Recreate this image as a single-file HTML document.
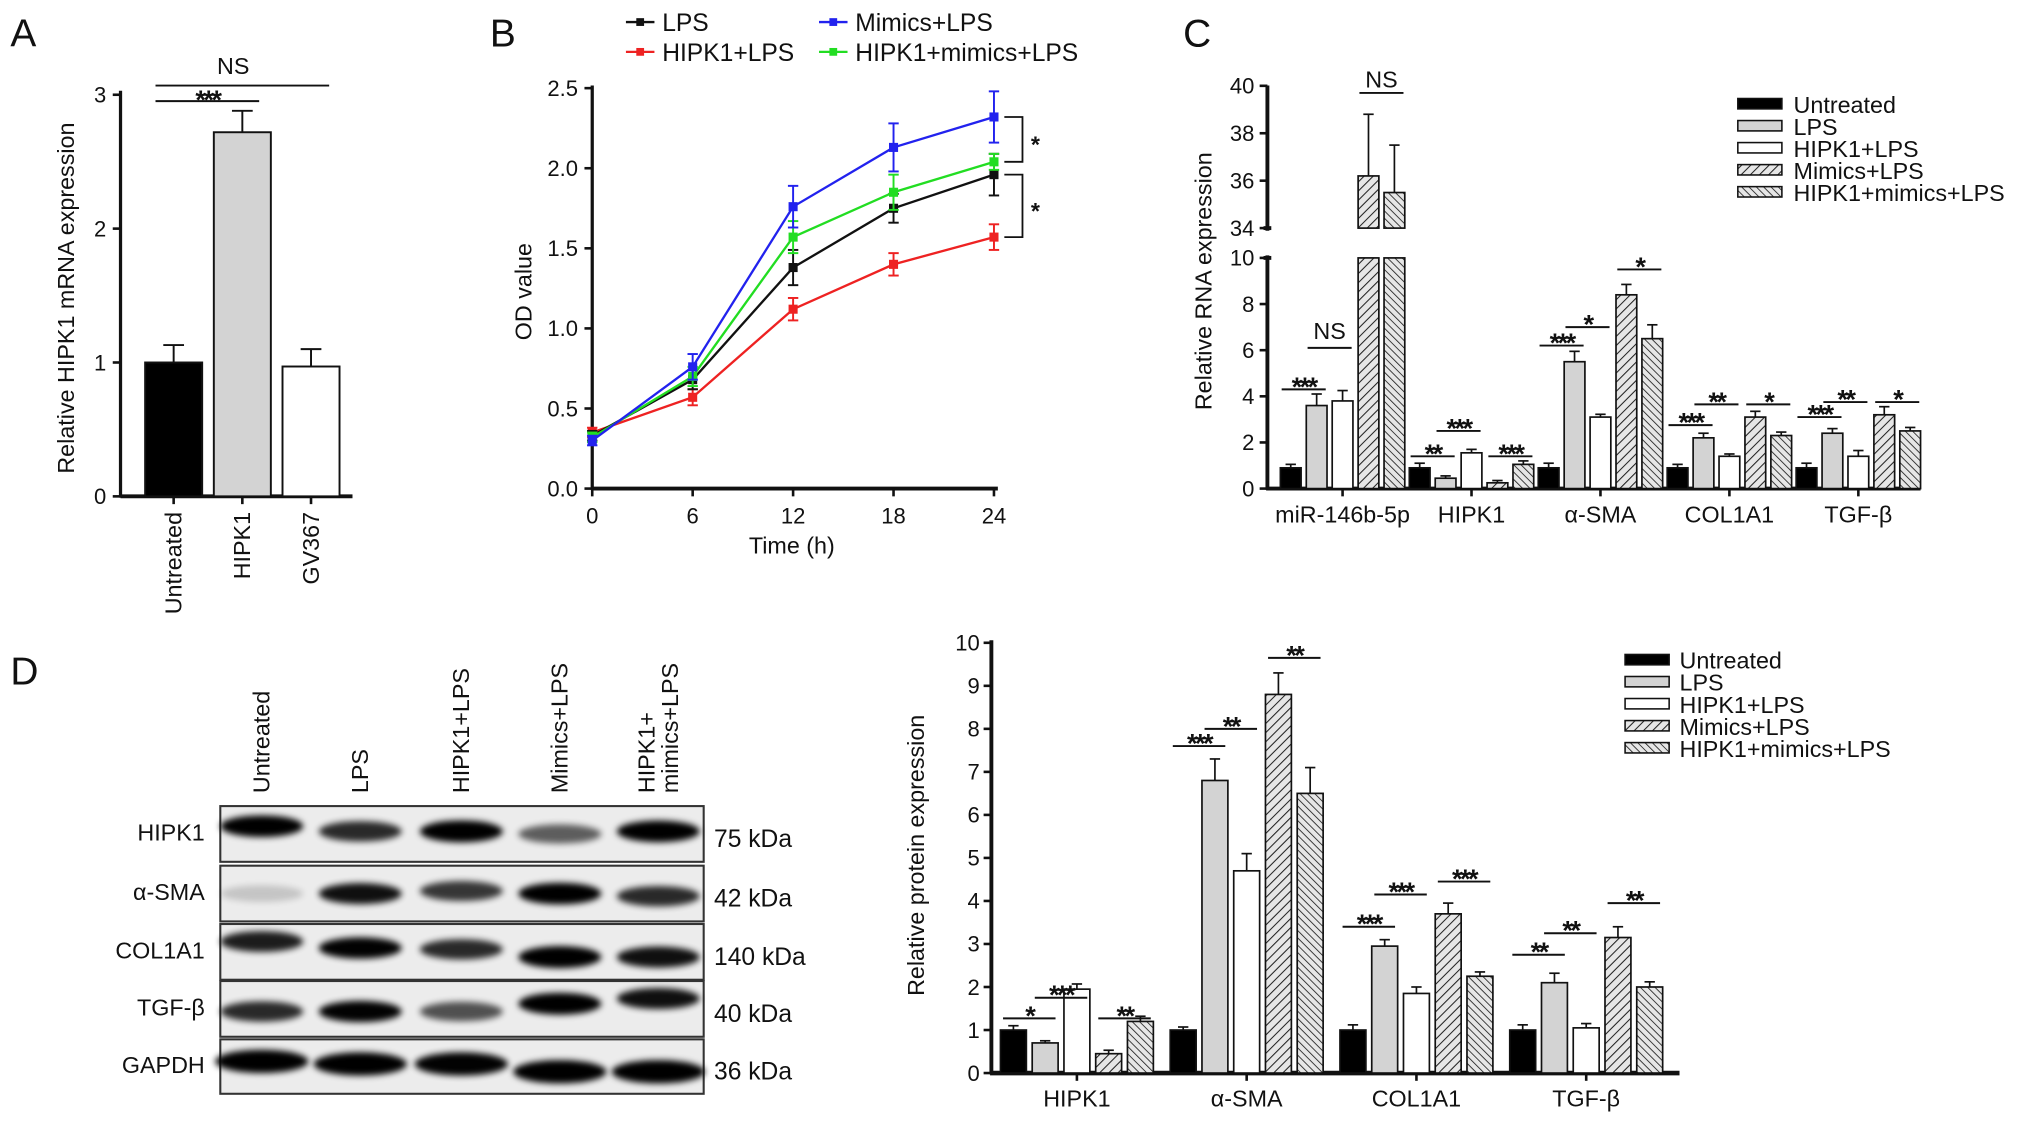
<!DOCTYPE html>
<html><head><meta charset="utf-8">
<style>
html,body{margin:0;padding:0;background:#fff;}
svg{display:block;}
text{font-family:"Liberation Sans",Arial,sans-serif;fill:#111;}
</style></head>
<body>
<svg id="fig" width="2032" height="1124" viewBox="0 0 1568 867.3" xmlns="http://www.w3.org/2000/svg">
<defs>
<pattern id="hatchA" patternUnits="userSpaceOnUse" width="5" height="5" patternTransform="rotate(45)"><rect width="5" height="5" fill="#e6e6e6"/><line x1="0" y1="0" x2="0" y2="5" stroke="#222" stroke-width="1.6"/></pattern>
<pattern id="hatchB" patternUnits="userSpaceOnUse" width="4" height="4" patternTransform="rotate(-45)"><rect width="4" height="4" fill="#e6e6e6"/><line x1="0" y1="0" x2="0" y2="4" stroke="#222" stroke-width="1.3"/></pattern>
<filter id="blur" x="-30%" y="-80%" width="160%" height="260%"><feGaussianBlur stdDeviation="2.4"/></filter>
</defs>
</svg>
<script>
// ---------- Panel A data ----------
const aCats = ["Untreated","HIPK1","GV367"];
const aVals = [1.0, 2.72, 0.97];
const aErrs = [0.13, 0.16, 0.13];
const aTicks = [0,1,2,3];
// ---------- Panel B data ----------
const bTimes = [0,6,12,18,24];
const bNames = ["LPS","HIPK1+LPS","Mimics+LPS","HIPK1+mimics+LPS"];
const bLPS = [0.33,0.68,1.38,1.75,1.96];
const bHIPK = [0.35,0.57,1.12,1.40,1.57];
const bMimics = [0.30,0.76,1.76,2.13,2.32];
const bBoth = [0.32,0.70,1.57,1.85,2.04];
const bErrLPS = [0.03,0.06,0.11,0.09,0.13];
const bErrHIPK = [0.03,0.05,0.07,0.07,0.08];
const bErrMimics = [0.03,0.08,0.13,0.15,0.16];
const bErrBoth = [0.03,0.06,0.10,0.11,0.05];
const bTicksY = [0,0.5,1,1.5,2,2.5];
// ---------- Panel C data ----------
const cCats = ["miR-146b-5p","HIPK1","α-SMA","COL1A1","TGF-β"];
const cSeries = ["Untreated","LPS","HIPK1+LPS","Mimics+LPS","HIPK1+mimics+LPS"];
const cUntreated = [0.9,0.9,0.9,0.9,0.9];
const cLPS = [3.6,0.45,5.5,2.2,2.4];
const cHIPK = [3.8,1.55,3.1,1.4,1.4];
const cMimics = [36.2,0.25,8.4,3.1,3.2];
const cBoth = [35.5,1.05,6.5,2.3,2.5];
const cErrU = [0.15,0.2,0.2,0.15,0.2];
const cErrL = [0.5,0.1,0.45,0.2,0.2];
const cErrH = [0.45,0.15,0.12,0.1,0.25];
const cErrM = [2.6,0.1,0.45,0.25,0.35];
const cErrB = [2.0,0.15,0.6,0.15,0.15];
const cTicksLow = [0,2,4,6,8,10];
const cTicksHigh = [34,36,38,40];
// sig: [group, fromBar, toBar, level, label]
const cSig = [[0,0,1,4.3,"***"],[0,1,2,6.1,"NS"],[1,0,1,1.4,"**"],[1,1,2,2.5,"***"],[1,3,4,1.4,"***"],
  [2,0,1,6.2,"***"],[2,1,2,7.0,"*"],[2,3,4,9.5,"*"],[3,0,1,2.75,"***"],[3,1,2,3.65,"**"],[3,3,4,3.65,"*"],
  [4,0,1,3.1,"***"],[4,1,2,3.75,"**"],[4,3,4,3.75,"*"]];
// ---------- Panel D chart data ----------
const dCats = ["HIPK1","α-SMA","COL1A1","TGF-β"];
const dUntreated = [1.0,1.0,1.0,1.0];
const dLPS = [0.7,6.8,2.95,2.1];
const dHIPK = [1.95,4.7,1.85,1.05];
const dMimics = [0.45,8.8,3.7,3.15];
const dBoth = [1.2,6.5,2.25,2.0];
const dErrU = [0.1,0.07,0.12,0.12];
const dErrL = [0.05,0.5,0.15,0.22];
const dErrH = [0.12,0.4,0.15,0.1];
const dErrM = [0.08,0.5,0.25,0.25];
const dErrB = [0.12,0.6,0.1,0.12];
const dTicks = [0,1,2,3,4,5,6,7,8,9,10];
const dSig = [[0,0,1,1.27,"*"],[0,1,2,1.75,"***"],[0,3,4,1.27,"**"],[1,0,1,7.6,"***"],[1,1,2,8.0,"**"],[1,3,4,9.65,"**"],
  [2,0,1,3.4,"***"],[2,1,2,4.15,"***"],[2,3,4,4.45,"***"],[3,0,1,2.75,"**"],[3,1,2,3.25,"**"],[3,3,4,3.95,"**"]];
// ---------- Blot data ----------
const blotRows = ["HIPK1","α-SMA","COL1A1","TGF-β","GAPDH"];
const blotKDa = ["75 kDa","42 kDa","140 kDa","40 kDa","36 kDa"];
const blotLanes = ["Untreated","LPS","HIPK1+LPS","Mimics+LPS","HIPK1+|mimics+LPS"];
const blotIntensity = [[0.95,0.75,1.0,0.55,0.95],[0.15,0.85,0.7,0.95,0.75],[0.8,0.9,0.75,1.0,0.85],[0.75,0.9,0.6,1.0,0.85],[0.95,0.95,0.9,0.95,1.0]];

const svg = document.getElementById('fig');
const NS = "http://www.w3.org/2000/svg";
function el(tag, attrs, parent, txt){
  const e = document.createElementNS(NS, tag);
  for (const k in attrs) e.setAttribute(k, attrs[k]);
  if (txt !== undefined) e.textContent = txt;
  (parent||svg).appendChild(e);
  return e;
}
function grp(name){ const g = el('g',{});   return g; }
function txt(g,x,y,s,size,name,extra){
  const t = el('text',Object.assign({x:x,y:y,'font-size':size},extra||{}),g,s);
  
  
  return t;
}
function line(g,x1,y1,x2,y2,w,c){ return el('line',{x1:x1,y1:y1,x2:x2,y2:y2,stroke:c||'#111','stroke-width':w||1.5},g); }
function sigLabel(g,x,y,s,name){
  if(s==='NS') return txt(g,x,y-4,s,18,name,{'text-anchor':'middle'});
  return txt(g,x,y+8,s,21,name,{'text-anchor':'middle','font-weight':'bold','letter-spacing':'-2'});
}

// ========== Panel A ==========
(function(){
  const g = grp('panel-a');
  txt(g,8,36,'A',30,'panel-a-label');
  const x0=93, yA = v => 383 - v*103.3;
  line(g,x0,70,x0,384,2.5);
  line(g,x0,383,272,383,3);
  aTicks.forEach(t=>{ line(g,x0-6,yA(t),x0,yA(t),2); txt(g,x0-11,yA(t)+6,String(t),17,'y-tick-'+t,{'text-anchor':'end'}); });
  const fills=['#000','#d3d3d3','#fff'];
  aCats.forEach((c,i)=>{
    const bx = 112 + i*53, w=44;
    const r = el('rect',{x:bx,y:yA(aVals[i]),width:w,height:yA(0)-yA(aVals[i]),fill:fills[i],stroke:'#111','stroke-width':1.5},g);
    
    
    const cx=bx+w/2;
    line(g,cx,yA(aVals[i]),cx,yA(aVals[i]+aErrs[i]),1.5);
    line(g,cx-8,yA(aVals[i]+aErrs[i]),cx+8,yA(aVals[i]+aErrs[i]),1.5);
    line(g,cx,383,cx,389,2);
    txt(g,0,0,c,18,'x-label-'+c.toLowerCase(),{'text-anchor':'end',transform:`translate(${cx+6},395) rotate(-90)`});
  });
  txt(g,0,0,'Relative HIPK1 mRNA expression',18,'y-axis-title',{'text-anchor':'middle',transform:'translate(57,230) rotate(-90)'});
  line(g,120,66,254,66,1.5); txt(g,180,57,'NS',18,'sig-ns',{'text-anchor':'middle'});
  line(g,120,78,200,78,1.5); sigLabel(g,160,76,'***','sig-stars');
})();

// ========== Panel B ==========
(function(){
  const g = grp('panel-b');
  txt(g,378,36,'B',30,'panel-b-label');
  const xB = t => 457 + t/6*77.5, yB = v => 377 - v/0.5*61.8;
  line(g,457,66,457,378,2.5);
  line(g,456,377,770,377,3);
  bTicksY.forEach(t=>{ line(g,451,yB(t),457,yB(t),2); txt(g,446,yB(t)+6,t.toFixed(1),17,'y-tick-'+t,{'text-anchor':'end'}); });
  bTimes.forEach(t=>{ line(g,xB(t),377,xB(t),383,2); txt(g,xB(t),404,String(t),17,'x-tick-'+t,{'text-anchor':'middle'}); });
  txt(g,611,427,'Time (h)',18,'x-axis-title',{'text-anchor':'middle'});
  txt(g,0,0,'OD value',18,'y-axis-title',{'text-anchor':'middle',transform:'translate(410,225) rotate(-90)'});
  const series=[[bLPS,bErrLPS,'#111'],[bHIPK,bErrHIPK,'#ee2222'],[bMimics,bErrMimics,'#2222ee'],[bBoth,bErrBoth,'#22dd22']];
  const order=[1,0,3,2];
  order.forEach(si=>{
    const [vals,errs,col]=series[si];
    const sg = grp('series-'+bNames[si].toLowerCase().replace(/\+/g,'-'));
    el('polyline',{points:vals.map((v,i)=>xB(bTimes[i])+','+yB(v)).join(' '),fill:'none',stroke:col,'stroke-width':1.8},sg);
    vals.forEach((v,i)=>{
      const x=xB(bTimes[i]);
      line(sg,x,yB(v-errs[i]),x,yB(v+errs[i]),1.5,col);
      line(sg,x-4,yB(v+errs[i]),x+4,yB(v+errs[i]),1.5,col);
      line(sg,x-4,yB(v-errs[i]),x+4,yB(v-errs[i]),1.5,col);
      const p = el('rect',{x:x-3.5,y:yB(v)-3.5,width:7,height:7,fill:col},sg);
      
      
    });
  });
  const last=bTimes.length-1, bx=xB(24)+8;
  [[bMimics[last],bBoth[last]],[bLPS[last],bHIPK[last]]].forEach((p,i)=>{
    el('polyline',{points:`${bx},${yB(p[0])} ${bx+14},${yB(p[0])} ${bx+14},${yB(p[1])} ${bx},${yB(p[1])}`,fill:'none',stroke:'#111','stroke-width':1.4},g);
    txt(g,bx+24,(yB(p[0])+yB(p[1]))/2+10,'*',18,'sig-star-'+i,{'text-anchor':'middle','font-weight':'bold'});
  });
  const lg = grp('legend-b');
  const pos=[[483,17],[483,40],[632,17],[632,40]];
  series.forEach((s,i)=>{
    line(lg,pos[i][0],pos[i][1],pos[i][0]+22,pos[i][1],1.8,s[2]);
    el('rect',{x:pos[i][0]+8,y:pos[i][1]-3,width:6,height:6,fill:s[2]},lg);
    txt(lg,pos[i][0]+28,pos[i][1]+7,bNames[i],19,'legend-entry-'+i);
  });
})();

// ========== Panel C ==========
(function(){
  const g = grp('panel-c');
  txt(g,913,36,'C',30,'panel-c-label');
  const x0=978;
  const yL = v => 377 - v*17.8;
  const yH = v => 176 - (v-34)*18.3;
  line(g,x0,66,x0,178,3); line(g,x0,197,x0,378,3);
  line(g,x0-3,176,x0+3,176,3); line(g,x0-3,199,x0+3,199,3);
  line(g,x0-1,377,1482,377,3);
  cTicksLow.forEach(t=>{ line(g,x0-6,yL(t),x0,yL(t),2); txt(g,x0-10,yL(t)+6,String(t),17,'y-tick-'+t,{'text-anchor':'end'}); });
  cTicksHigh.forEach(t=>{ line(g,x0-6,yH(t),x0,yH(t),2); txt(g,x0-10,yH(t)+6,String(t),17,'y-tick-'+t,{'text-anchor':'end'}); });
  txt(g,0,0,'Relative RNA expression',18,'y-axis-title',{'text-anchor':'middle',transform:'translate(935,217) rotate(-90)'});
  const vals=[cUntreated,cLPS,cHIPK,cMimics,cBoth], errs=[cErrU,cErrL,cErrH,cErrM,cErrB];
  const fills=['#000','#d3d3d3','#fff','url(#hatchA)','url(#hatchB)'];
  const bxC=(gi,bi)=>988+gi*99.5+bi*20, w=16;
  cCats.forEach((c,gi)=>{
    for(let bi=0;bi<5;bi++){
      const v=vals[bi][gi], e=errs[bi][gi], x=bxC(gi,bi);
      let r;
      if(v>10){
        r=el('rect',{x:x,y:yL(10),width:w,height:yL(0)-yL(10),fill:fills[bi],stroke:'#111','stroke-width':1.3},g);
        el('rect',{x:x,y:yH(v),width:w,height:yH(34)-yH(v),fill:fills[bi],stroke:'#111','stroke-width':1.3},g);
        line(g,x+w/2,yH(v),x+w/2,yH(v+e),1.3); line(g,x+w/2-4,yH(v+e),x+w/2+4,yH(v+e),1.3);
      } else {
        r=el('rect',{x:x,y:yL(v),width:w,height:yL(0)-yL(v),fill:fills[bi],stroke:'#111','stroke-width':1.3},g);
        line(g,x+w/2,yL(v),x+w/2,yL(v+e),1.3); line(g,x+w/2-4,yL(v+e),x+w/2+4,yL(v+e),1.3);
      }
      
      
    }
    const cx=bxC(gi,2)+w/2;
    line(g,cx,377,cx,383,2);
    txt(g,cx,403,c,18,'x-label-'+gi,{'text-anchor':'middle'});
  });
  cSig.forEach((s,i)=>{
    const x1=bxC(s[0],s[1])+1, x2=bxC(s[0],s[2])+w-1, y=yL(s[3]);
    line(g,x1,y,x2,y,1.5);
    sigLabel(g,(x1+x2)/2,y-3,s[4],'sig-c-'+i);
  });
  const x1=bxC(0,3)+1,x2=bxC(0,4)+w-1,y=yH(39.7);
  line(g,x1,y,x2,y,1.5); txt(g,(x1+x2)/2,y-4,'NS',18,'sig-c-mir-ns',{'text-anchor':'middle'});
  const lg=grp('legend-c');
  cSeries.forEach((s,i)=>{
    const y=80+i*17;
    el('rect',{x:1341,y:y-4,width:34,height:8,fill:fills[i],stroke:'#111','stroke-width':1.2},lg);
    txt(lg,1384,y+7,s,18,'legend-entry-'+i);
  });
})();

// ========== Panel D blot ==========
(function(){
  const g = grp('panel-d-blot');
  txt(g,8,528,'D',30,'panel-d-label');
  const laneX=[202,278,356,432,508];
  blotLanes.forEach((l,i)=>{
    const parts=l.split('|');
    parts.forEach((p,j)=>{
      txt(g,0,0,p,18,'lane-label-'+i+'-'+j,{'text-anchor':'start',transform:`translate(${laneX[i]+6 + (parts.length>1?(j*18-9):0)},612) rotate(-90)`});
    });
  });
  const rowY=[[622,665],[668,711],[713,756],[757,800],[802,844]];
  const bandDY=[[-6,-2,-2,0,-2],[0,0,-2,0,2],[-8,-3,-2,4,4],[2,2,2,-4,-8],[-4,-2,-2,4,4]];
  blotRows.forEach((r,ri)=>{
    const [y1,y2]=rowY[ri];
    const rg=grp('blot-row-'+r.toLowerCase());
    el('rect',{x:170,y:y1,width:373,height:y2-y1,fill:'#ececec',stroke:'#333','stroke-width':1.6},rg);
    const cy=(y1+y2)/2;
    blotIntensity[ri].forEach((v,li)=>{
      const b=el('ellipse',{cx:laneX[li],cy:cy+bandDY[ri][li],rx:ri===4?36:32,ry:ri===4?9:6+v*2.5,fill:'#000',opacity:Math.min(1,v*1.1),filter:'url(#blur)'},rg);
      
      
    });
    txt(g,158,cy+5,r,18,'row-label-'+ri,{'text-anchor':'end'});
    txt(g,551,cy+10,blotKDa[ri],19,'kda-label-'+ri);
  });
})();

// ========== Panel D chart ==========
(function(){
  const g = grp('panel-d-chart');
  const x0=765, yD = v => 828 - v*33.2;
  line(g,x0,494,x0,829,3);
  line(g,x0-1,828,1296,828,3.5);
  dTicks.forEach(t=>{ line(g,x0-6,yD(t),x0,yD(t),2); txt(g,x0-9,yD(t)+6,String(t),17,'y-tick-'+t,{'text-anchor':'end'}); });
  txt(g,0,0,'Relative protein expression',18,'y-axis-title',{'text-anchor':'middle',transform:'translate(713,660) rotate(-90)'});
  const vals=[dUntreated,dLPS,dHIPK,dMimics,dBoth], errs=[dErrU,dErrL,dErrH,dErrM,dErrB];
  const fills=['#000','#d3d3d3','#fff','url(#hatchA)','url(#hatchB)'];
  const bxD=(gi,bi)=>772+gi*131+bi*24.5, w=20;
  dCats.forEach((c,gi)=>{
    for(let bi=0;bi<5;bi++){
      const v=vals[bi][gi], e=errs[bi][gi], x=bxD(gi,bi);
      const r=el('rect',{x:x,y:yD(v),width:w,height:yD(0)-yD(v),fill:fills[bi],stroke:'#111','stroke-width':1.3},g);
      
      
      line(g,x+w/2,yD(v),x+w/2,yD(v+e),1.3); line(g,x+w/2-4,yD(v+e),x+w/2+4,yD(v+e),1.3);
    }
    const cx=bxD(gi,2)+w/2;
    line(g,cx,828,cx,834,2);
    txt(g,cx,854,c,18,'x-label-'+gi,{'text-anchor':'middle'});
  });
  dSig.forEach((s,i)=>{
    const x1=bxD(s[0],s[1])+2, x2=bxD(s[0],s[2])+w-2, y=yD(s[3]);
    line(g,x1,y,x2,y,1.5);
    sigLabel(g,(x1+x2)/2,y-3,s[4],'sig-d-'+i);
  });
  const lg=grp('legend-d');
  ["Untreated","LPS","HIPK1+LPS","Mimics+LPS","HIPK1+mimics+LPS"].forEach((s,i)=>{
    const y=509+i*17;
    el('rect',{x:1254,y:y-4,width:34,height:8,fill:fills[i],stroke:'#111','stroke-width':1.2},lg);
    txt(lg,1296,y+7,s,18,'legend-entry-'+i);
  });
})();
</script>
</body></html>
